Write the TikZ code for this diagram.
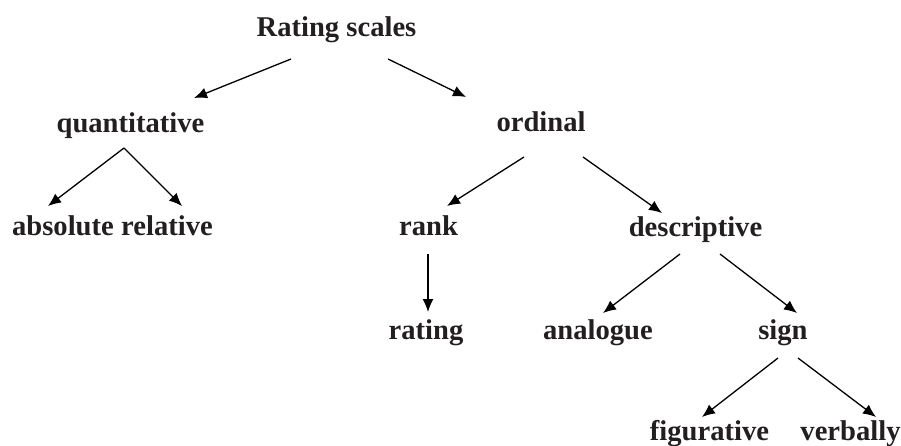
\documentclass[tikz,border=0pt]{standalone}
\usepackage{fontspec}
\setmainfont{Liberation Serif}
\usetikzlibrary{calc,arrows.meta}
\definecolor{ink}{HTML}{231F20}
\begin{document}
\begin{tikzpicture}[x=1pt,y=-1pt,
  lbl/.style={anchor=base,inner sep=0pt,font=\fontsize{28.6}{30}\selectfont\bfseries,text=ink},
  arr/.style={-{Latex[length=13pt,width=11pt]},line width=1.3pt,draw=black}]
\useasboundingbox (0,0) rectangle (901,445);
\node[lbl] (rs) at (336.5,36) {Rating scales};
\node[lbl] (qu) at (130.5,132) {quantitative};
\node[lbl] (or) at (541,131) {ordinal};
\node[lbl] (ab) at (63,235) {absolute};
\node[lbl] (rel) at (167,235) {relative};
\node[lbl] (rk) at (428.5,235) {rank};
\node[lbl] (ds) at (695.5,236) {descriptive};
\node[lbl] (rt) at (426,339) {rating};
\node[lbl] (an) at (598,339) {analogue};
\node[lbl] (sg) at (783,339) {sign};
\node[lbl] (fg) at (709.5,440) {figurative};
\node[lbl] (vb) at (850.5,440) {verbally};
\draw[arr] ($(rs.base)+(-45.5,23)$) -- ($(qu.base)+(63.5,-34)$);
\draw[arr] ($(rs.base)+(51.5,23)$) -- ($(or.base)+(-75,-34)$);
\draw[arr] ($(qu.base)+(-6.5,16)$) -- ($(ab.base)+(-15,-29)$);
\draw[arr] ($(qu.base)+(-6.5,16)$) -- ($(rel.base)+(15,-29)$);
\draw[arr] ($(or.base)+(-17,26)$) -- ($(rk.base)+(18.5,-29)$);
\draw[arr] ($(or.base)+(42,26)$) -- ($(ds.base)+(-33.5,-23)$);
\draw[arr] ($(rk.base)+(-0.5,19)$) -- ($(rt.base)+(2,-27)$);
\draw[arr] ($(ds.base)+(-15.5,18)$) -- ($(an.base)+(5,-26)$);
\draw[arr] ($(ds.base)+(24.5,18)$) -- ($(sg.base)+(14,-26)$);
\draw[arr] ($(sg.base)+(-5,19)$) -- ($(fg.base)+(-7.5,-23)$);
\draw[arr] ($(sg.base)+(15,19)$) -- ($(vb.base)+(25.5,-23)$);
\end{tikzpicture}
\end{document}
